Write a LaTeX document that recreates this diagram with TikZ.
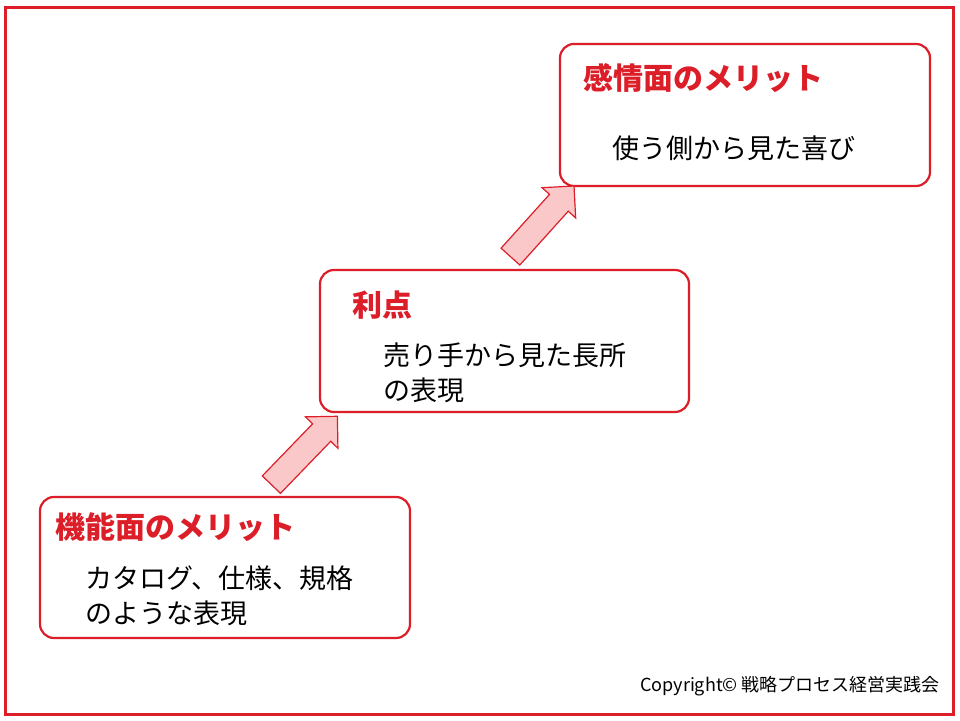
\documentclass[tikz,border=0pt]{standalone}
\usepackage{fontspec}
\setmainfont{Noto Sans CJK JP}
\usetikzlibrary{shapes.arrows}
\definecolor{boxred}{RGB}{220,30,40}
\definecolor{arrowpink}{RGB}{250,200,200}
\tikzset{
  meritbox/.style={draw=boxred, line width=2.2pt, rounded corners=14pt, fill=white},
  merittitle/.style={anchor=west, text=boxred, font=\fontsize{30}{33}\selectfont\bfseries, inner sep=0pt},
  meritbody/.style={anchor=west, font=\fontsize{27}{30}\selectfont, inner sep=0pt},
  steparrow/.style={single arrow, draw=boxred, fill=arrowpink, line width=1.2pt,
    minimum height=95pt, inner xsep=0pt, inner ysep=12pt, single arrow head extend=10pt}
}
\begin{document}
\begin{tikzpicture}[x=1pt,y=1pt]
  \useasboundingbox (0,0) rectangle (960,720);
  % frame
  \draw[boxred, line width=3pt] (5,6) rectangle (953,712);
  % boxes
  \draw[meritbox] (40,82) rectangle (410,223);
  \draw[meritbox] (320,308) rectangle (689,450);
  \draw[meritbox] (560,534) rectangle (930,676);
  % arrows
  \node[steparrow, rotate=46] (up1) at (300,265) {};
  \node[steparrow, rotate=48] (up2) at (538,494) {};
  % texts
  \node[merittitle] (func) at (55,193) {機能面のメリット};
  \node[meritbody] (funca) at (85,142) {カタログ、仕様、規格};
  \node[meritbody] (funcb) at (85,107) {のような表現};
  \node[merittitle] (adv) at (352,415) {利点};
  \node[meritbody] (adva) at (383,365) {売り手から見た長所};
  \node[meritbody] (advb) at (383,330) {の表現};
  \node[merittitle] (emo) at (583,642) {感情面のメリット};
  \node[meritbody] (emoa) at (612,572) {使う側から見た喜び};
  \node[anchor=east, font=\fontsize{18}{20}\selectfont, inner sep=0pt] (copy) at (940,34) {Copyright© 戦略プロセス経営実践会};
\end{tikzpicture}
\end{document}
